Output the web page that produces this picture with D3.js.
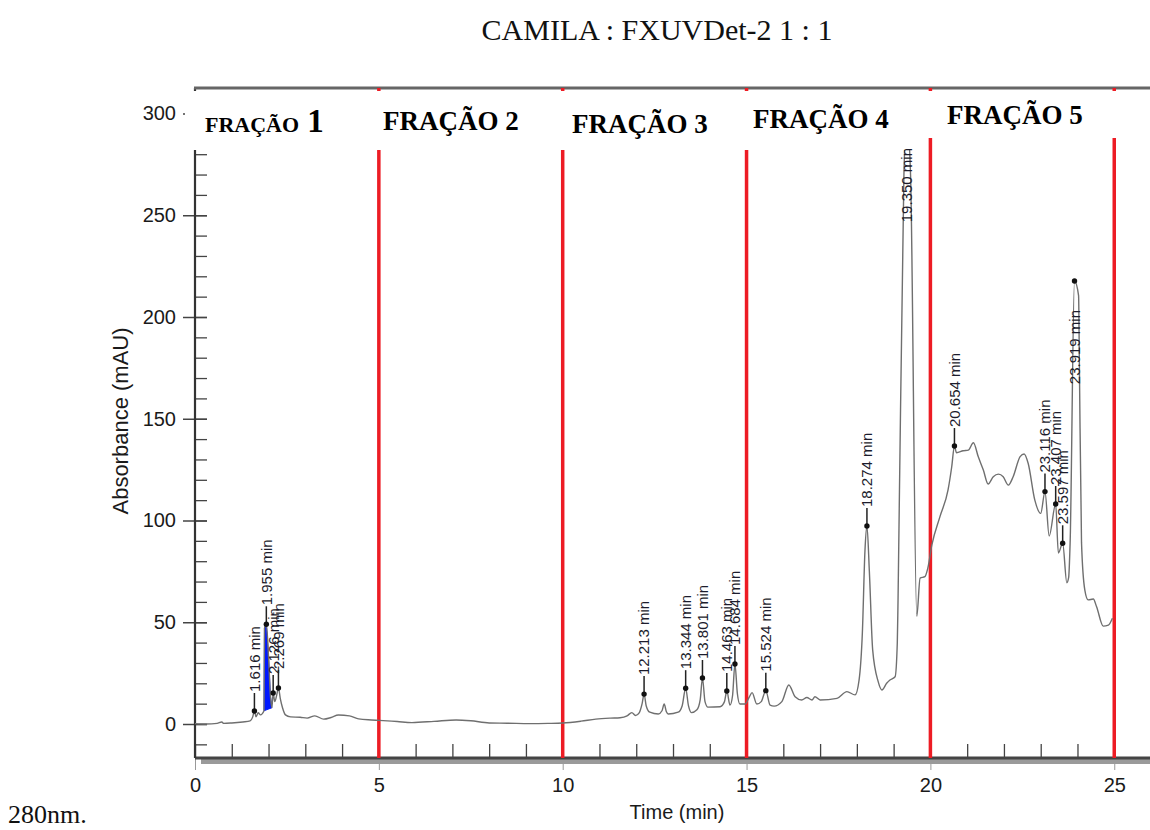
<!DOCTYPE html>
<html><head><meta charset="utf-8">
<script src="https://cdn.jsdelivr.net/npm/d3@7"></script>
<style>body{margin:0;background:#fff;} svg{display:block}</style>
</head><body><svg id="c" width="1150" height="830"></svg>
<script>
// ---- data ----
const traceTime = [0.0,0.3,0.6,0.73,0.78,1.0,1.3,1.5,1.57,1.616,1.66,1.72,1.78,1.877,1.89,1.94,2.0,2.05,2.09,2.126,2.17,2.22,2.269,2.32,2.38,2.46,2.6,2.86,3.05,3.26,3.5,3.7,3.9,4.2,4.45,4.8,5.0,5.5,5.9,6.5,7.1,7.5,8.0,8.5,9.1,9.6,10.0,10.5,10.9,11.3,11.56,11.75,11.88,11.98,12.08,12.16,12.213,12.27,12.37,12.6,12.7,12.76,12.82,12.87,13.14,13.25,13.344,13.42,13.5,13.65,13.74,13.801,13.87,13.95,14.28,14.4,14.463,14.55,14.62,14.684,14.75,14.82,14.96,15.08,15.15,15.28,15.4,15.524,15.64,15.75,15.96,16.15,16.32,16.5,16.64,16.78,16.86,17.0,17.46,17.73,17.95,18.06,18.15,18.22,18.274,18.34,18.43,18.58,18.68,18.81,18.9,19.04,19.1,19.12,19.28,19.35,19.46,19.63,19.72,19.85,19.93,20.04,20.26,20.48,20.58,20.654,20.71,20.89,21.03,21.17,21.3,21.44,21.57,21.71,21.85,21.98,22.12,22.25,22.44,22.55,22.66,22.84,23.0,23.116,23.23,23.407,23.48,23.597,23.71,23.76,23.8,23.919,24.03,24.05,24.11,24.2,24.29,24.43,24.52,24.7,24.84,24.95];
const traceAbs = [0.2,0.0,0.3,1.0,0.3,0.5,1.0,1.5,3.5,6.4,3.5,5.5,4.5,6.5,47,49,33,14,8,15.2,11,14,17.7,12.5,8,4.5,3.5,3.3,2.9,4.0,2.4,3.2,4.4,4.0,2.5,2.0,1.8,1.2,0.7,1.3,2.0,1.6,0.5,0.4,0.2,0.3,0.5,1.4,2.4,2.9,3.1,4.0,5.6,4.2,5.5,10,14.7,9,5.8,4.9,6.5,9.8,6,4.9,5.8,9,17.6,9,5.6,7,12,22.6,11,8.3,8.5,11,16.2,9.3,14,29.5,15,9.8,9.8,13.5,15.4,9.8,11,16.4,9.3,8.8,11,19.2,13.4,11.8,13,11.8,13.4,11.8,12.6,15.9,14.3,21.6,45,85,97.3,75,36.4,20.8,16.7,20,21.6,23.2,40,61,270,300,270,53,71.7,72.4,76.6,88,101.9,115,126.4,136.6,133.3,134.3,134.6,138.2,131.4,124.8,117.9,121.5,122.8,121.5,117.4,121.5,131.4,132.7,128,110,103.5,114.2,92.4,108.1,84,88.8,69.4,72,89,217.7,210.5,180,89,65.8,61,61.4,57.6,48.1,48.6,52];
const shadedStart = 1.877, shadedEnd = 2.09;   // blue integrated area (min)
const peakTime  = [1.616,1.94,2.126,2.269,12.213,13.344,13.801,14.463,14.684,15.524,18.274,19.35,20.654,23.116,23.407,23.597,23.919];
const peakAbs   = [6.4,49,15.2,17.7,14.7,17.6,22.6,16.2,29.5,16.4,97.3,300,136.6,114.2,108.1,88.8,217.7];
const peakLabel = ["1.616 min","1.955 min","2.126 min","2.269 min","12.213 min","13.344 min","13.801 min","14.463 min","14.684 min","15.524 min","18.274 min","19.350 min","20.654 min","23.116 min","23.407 min","23.597 min","23.919 min"];
const fractionNames = ["FRAÇÃO 1","FRAÇÃO 2","FRAÇÃO 3","FRAÇÃO 4","FRAÇÃO 5"];
const fractionEdges = [5,10,15,20,25];
const xTickValues = [0,5,10,15,20,25];
const yTickValues = [0,50,100,150,200,250,300];

// ---- layout ----
const svg = d3.select("#c");
const x = d3.scaleLinear().domain([0,25]).range([195,1114.25]);
const y = d3.scaleLinear().domain([0,300]).range([724,113.5]);
const axisY = 758, topY = 88, rightX = 1150;
const sans = "'Liberation Sans', Arial, sans-serif";
const serif = "'Liberation Serif', 'Times New Roman', serif";

// title & footer
svg.append("text").attr("x",657).attr("y",40).attr("text-anchor","middle")
  .attr("font-family",serif).attr("font-size",30).attr("fill","#111").text("CAMILA : FXUVDet-2 1 : 1");
svg.append("text").attr("x",8).attr("y",823)
  .attr("font-family",serif).attr("font-size",26).attr("fill","#111").text("280nm.");

// x axis: minor ticks up
const gxMinor = svg.append("g").attr("transform",`translate(0,${axisY})`)
  .call(d3.axisTop(x).tickValues(d3.range(0,26,1)).tickSize(14).tickFormat(""));
gxMinor.select(".domain").remove();
gxMinor.selectAll("line").attr("stroke","#444").attr("stroke-width",1.3);
// x axis: major ticks down + labels
const gx = svg.append("g").attr("transform",`translate(0,${axisY})`)
  .call(d3.axisBottom(x).tickValues(xTickValues).tickSize(12).tickPadding(8).tickFormat(d3.format("d")));
gx.select(".domain").remove();
gx.selectAll("line").attr("stroke","#999").attr("stroke-width",1);
gx.selectAll("text").attr("font-family",sans).attr("font-size",20).attr("fill","#1a1a1a");
// x axis bar with shadow
svg.append("rect").attr("x",201).attr("y",axisY+1).attr("width",rightX-201).attr("height",5).attr("fill","#9a9a9a");
svg.append("line").attr("x1",195).attr("x2",rightX).attr("y1",axisY).attr("y2",axisY).attr("stroke","#444").attr("stroke-width",3);

// y axis minor ticks (right side)
const gyMinor = svg.append("g").attr("transform","translate(195,0)")
  .call(d3.axisRight(y).tickValues(d3.range(-10,301,10)).tickSize(12).tickFormat(""));
gyMinor.select(".domain").remove();
gyMinor.selectAll("line").attr("stroke","#444").attr("stroke-width",1.3);
const gy = svg.append("g").attr("transform","translate(195,0)")
  .call(d3.axisLeft(y).tickValues(yTickValues).tickSize(12).tickPadding(7));
gy.select(".domain").remove();
gy.selectAll("line").attr("stroke","#444").attr("stroke-width",1.5).attr("x2",-12).attr("x1",12);
gy.selectAll("text").attr("font-family",sans).attr("font-size",20).attr("fill","#1a1a1a");
svg.append("line").attr("x1",195).attr("x2",195).attr("y1",topY).attr("y2",axisY).attr("stroke","#333").attr("stroke-width",2.2);
// top border
svg.append("line").attr("x1",194).attr("x2",rightX).attr("y1",topY).attr("y2",topY).attr("stroke","#666").attr("stroke-width",3);

// axis titles
svg.append("text").attr("transform","translate(128,421) rotate(-90)").attr("text-anchor","middle")
  .attr("font-family",sans).attr("font-size",22).attr("fill","#1a1a1a").text("Absorbance (mAU)");
svg.append("text").attr("x",677).attr("y",819).attr("text-anchor","middle")
  .attr("font-family",sans).attr("font-size",20).attr("fill","#1a1a1a").text("Time (min)");

// red fraction boundaries
svg.selectAll("line.frac").data(fractionEdges).enter().append("line")
  .attr("x1",d=>x(d)).attr("x2",d=>x(d)).attr("y1",topY).attr("y2",axisY)
  .attr("stroke","#ed1c24").attr("stroke-width",3.5);

// trace
const pts = traceTime.map((t,i)=>[t,traceAbs[i]]);
const shaded = pts.filter(p=>p[0]>=shadedStart && p[0]<=shadedEnd);
svg.append("path").datum(shaded)
  .attr("d", d3.line().x(d=>x(d[0])).y(d=>y(d[1]))(shaded)+"Z")
  .attr("fill","#0018ff").attr("stroke","#0018ff").attr("stroke-width",1);
svg.append("path").datum(pts)
  .attr("d", d3.line().curve(d3.curveMonotoneX).x(d=>x(d[0])).y(d=>y(d[1])))
  .attr("fill","none").attr("stroke","#6f6f6f").attr("stroke-width",1.4);

// peak markers and tick lines
const peaks = peakTime.map((t,i)=>({t, v:peakAbs[i], label:peakLabel[i]}));
const below = new Set(["23.919 min"]);
const gPk = svg.append("g");
peaks.forEach(p=>{
  const px = x(p.t), py = y(p.v);
  if(!below.has(p.label)){
    gPk.append("line").attr("x1",px).attr("x2",px).attr("y1",py).attr("y2",py-18).attr("stroke","#222").attr("stroke-width",1.5);
  }
  gPk.append("circle").attr("cx",px).attr("cy",py).attr("r",2.7).attr("fill","#111");
});

// white label boxes for fractions
const boxes = [[185,91,165,59],[371,91,180,59],[555,91,180,59],[739,91,179,59],[921,91,204,47]];
svg.selectAll("rect.box").data(boxes).enter().append("rect")
  .attr("x",d=>d[0]).attr("y",d=>d[1]).attr("width",d=>d[2]).attr("height",d=>d[3]).attr("fill","#fff");

// fraction labels
const fracPos = [[205,132],[383,130],[572,133],[753,128],[947,124]];
fractionNames.forEach((name,i)=>{
  const t = svg.append("text").attr("x",fracPos[i][0]).attr("y",fracPos[i][1])
    .attr("font-family",serif).attr("font-weight","bold").attr("fill","#000");
  if(i===0){
    const parts = name.split(" ");
    t.append("tspan").attr("font-size",22).text(parts[0]);
    t.append("tspan").attr("font-size",33).text(" "+parts[1]);
  } else {
    t.attr("font-size",27).text(name);
  }
});

// peak labels
const labelTop = 148;
peaks.forEach(p=>{
  const px = x(p.t), py = y(p.v);
  const t = svg.append("text").attr("font-family",sans).attr("font-size",15).attr("fill","#1c1c2c")
    .attr("dy","0.36em").text(p.label);
  const len = t.node().getComputedTextLength();
  let start;
  if(below.has(p.label)) start = py + 29 + len;
  else start = Math.max(py - 19, labelTop + len);
  t.attr("transform",`translate(${px},${start}) rotate(-90)`);
});
</script></body></html>
